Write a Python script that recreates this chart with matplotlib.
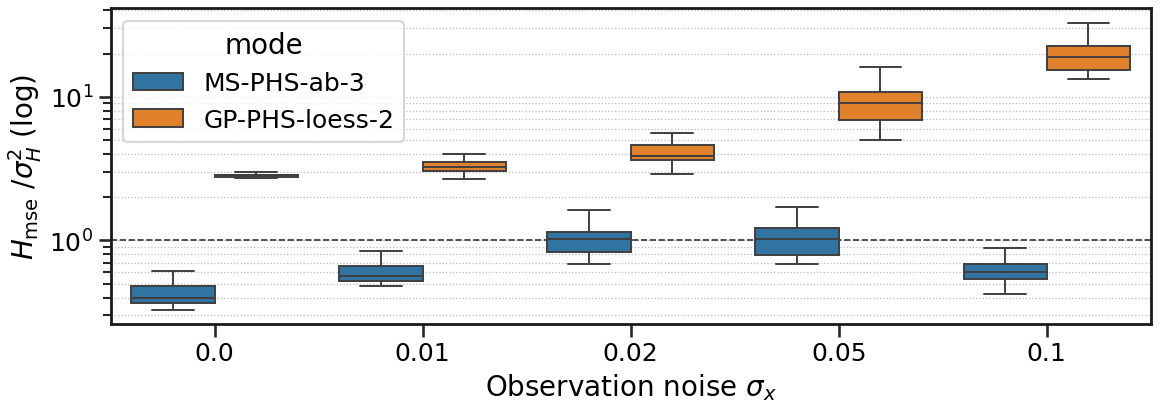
import numpy as np
import matplotlib
matplotlib.use("Agg")
import matplotlib.pyplot as plt
import seaborn as sns
from matplotlib.patches import Patch

# noise levels on the x axis
noise = ["0.0", "0.01", "0.02", "0.05", "0.1"]
modes = ["MS-PHS-ab-3", "GP-PHS-loess-2"]

# box statistics (whislo, q1, median, q3, whishi)
ms_whislo = [0.325, 0.479, 0.681, 0.681, 0.422]
ms_q1 = [0.365, 0.525, 0.835, 0.791, 0.542]
ms_med = [0.400, 0.569, 1.03, 1.03, 0.606]
ms_q3 = [0.479, 0.667, 1.149, 1.21, 0.689]
ms_whishi = [0.616, 0.848, 1.615, 1.714, 0.889]

gp_whislo = [2.72, 2.68, 2.92, 5.0, 13.3]
gp_q1 = [2.78, 3.05, 3.63, 6.89, 15.3]
gp_med = [2.85, 3.25, 3.87, 9.04, 18.9]
gp_q3 = [2.87, 3.52, 4.62, 10.8, 22.5]
gp_whishi = [3.0, 4.0, 5.6, 16.1, 32.5]

sns.set_context("talk")
sns.set_style("ticks")
plt.rcParams["font.family"] = ["DejaVu Sans"]
plt.rcParams["xtick.labelsize"] = 18
plt.rcParams["ytick.labelsize"] = 18
plt.rcParams["axes.labelsize"] = 20
plt.rcParams["legend.fontsize"] = 18
plt.rcParams["legend.title_fontsize"] = 20
plt.rcParams["text.color"] = "black"
plt.rcParams["axes.labelcolor"] = "black"
plt.rcParams["xtick.labelcolor"] = "black"
plt.rcParams["ytick.labelcolor"] = "black"

colors = sns.color_palette(n_colors=2, desat=0.75)
line_col = "#3f3f3f"

fig, ax = plt.subplots(figsize=(11.6, 4.1), dpi=100)
fig.subplots_adjust(left=0.0954, right=0.992, top=0.978, bottom=0.207)


def make_stats(lo, q1, med, q3, hi):
    return [dict(whislo=a, q1=b, med=c, q3=d, whishi=e, fliers=[])
            for a, b, c, d, e in zip(lo, q1, med, q3, hi)]


series = [
    make_stats(ms_whislo, ms_q1, ms_med, ms_q3, ms_whishi),
    make_stats(gp_whislo, gp_q1, gp_med, gp_q3, gp_whishi),
]

x = np.arange(len(noise))
for k, stats in enumerate(series):
    pos = x - 0.2 + 0.4 * k
    line_kw = dict(color=line_col, linewidth=1.4)
    ax.bxp(stats, positions=pos, widths=0.4, patch_artist=True,
           showfliers=False, manage_ticks=False,
           boxprops=dict(facecolor=colors[k], edgecolor=line_col, linewidth=1.4),
           medianprops=line_kw, whiskerprops=line_kw, capprops=line_kw,
           zorder=3)

ax.set_yscale("log")
ax.set_ylim(0.261, 41.5)
ax.set_xlim(-0.5, 4.5)
ax.set_xticks(x)
ax.set_xticklabels(noise)
ax.axhline(1.0, color="#333333", linestyle="--", linewidth=1.2, zorder=2)
ax.grid(True, which="both", axis="y", linestyle=":", color="#bbbbbb", linewidth=0.9)
for s in ax.spines.values():
    s.set_color("#1a1a1a")
    s.set_linewidth(2.0)

ax.set_xlabel(r"Observation noise $\sigma_x$")
ax.set_ylabel(r"$H_{\mathrm{mse}}\ /\sigma_H^2$ (log)")

handles = [Patch(facecolor=colors[k], edgecolor=line_col, linewidth=1.4, label=m)
           for k, m in enumerate(modes)]
ax.legend(handles=handles, title="mode", loc="upper left")

fig.savefig("out.png", dpi=100)
